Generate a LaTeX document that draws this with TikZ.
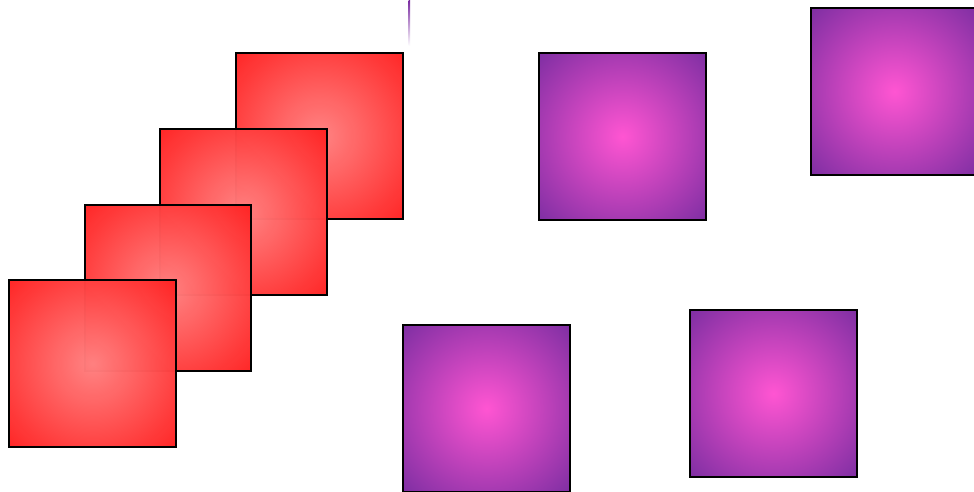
\documentclass[tikz,border=0pt]{standalone}
\definecolor{rin}{RGB}{255,130,130}
\definecolor{rout}{RGB}{255,0,0}
\definecolor{pin}{RGB}{255,85,210}
\definecolor{pout}{RGB}{92,36,150}
\definecolor{stickc}{RGB}{120,40,160}
\pgfdeclareradialshading{redrad}{\pgfpoint{0bp}{0bp}}{color(0bp)=(rin); color(48bp)=(rout)}
\pgfdeclareradialshading{purprad}{\pgfpoint{0bp}{0bp}}{color(0bp)=(pin); color(45bp)=(pout)}
\tikzset{
  sq/.style={rectangle, draw=black, line width=1.5pt, inner sep=0pt, minimum size=125pt},
  redsq/.style={sq, shading=redrad, fill opacity=0.98},
  purpsq/.style={sq, shading=purprad},
}
\begin{document}
\begin{tikzpicture}[x=0.75pt,y=-0.75pt]
\useasboundingbox (0,0) rectangle (974,492);
\clip (0,0) rectangle (974,492);
\fill[white] (0,0) rectangle (974,492);
\shade[top color=stickc, bottom color=white] (408.5,0) rectangle (410,46);
\node[redsq] (r1) at (319.5,136) {};
\node[redsq] (r2) at (243.5,212) {};
\node[redsq] (r3) at (168,288) {};
\node[redsq] (r4) at (92.5,363.5) {};
\node[purpsq] (pa) at (622.5,136.5) {};
\node[purpsq] (pb) at (894.5,91.5) {};
\node[purpsq] (pc) at (486.5,408.5) {};
\node[purpsq] (pd) at (773.5,393.5) {};
\end{tikzpicture}
\end{document}
